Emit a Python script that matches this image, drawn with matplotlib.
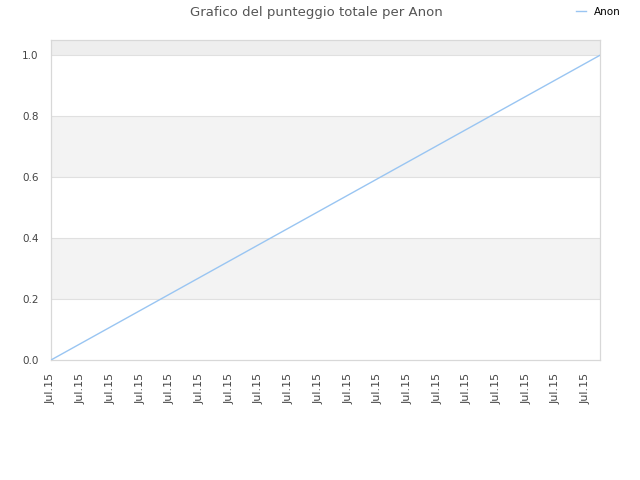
import matplotlib
matplotlib.use("Agg")
import matplotlib.pyplot as plt

# data
x_values = [0.0, 18.48]
y_values = [0.0, 1.0]
tick_positions = list(range(19))
tick_labels = ["Jul.15"] * 19
y_ticks = [0.0, 0.2, 0.4, 0.6, 0.8, 1.0]
series_name = "Anon"
title = "Grafico del punteggio totale per Anon"

fig = plt.figure(figsize=(6.4, 4.8), dpi=100)
ax = fig.add_axes([51/640, 120/480, 549/640, 320/480])

# bands
ax.axhspan(0.2, 0.4, color="#f3f3f3", zorder=0, lw=0)
ax.axhspan(0.6, 0.8, color="#f3f3f3", zorder=0, lw=0)
ax.axhspan(1.0, 1.05, color="#eeeeee", zorder=0, lw=0)
for yv in y_ticks[1:]:
    ax.axhline(yv, color="#e0e0e0", lw=0.8, zorder=1)

ax.plot(x_values, y_values, color="#99c5f2", lw=1.0, zorder=3, label=series_name)

ax.set_xlim(0, 18.48)
ax.set_ylim(0, 1.05)
ax.set_xticks(tick_positions)
ax.set_xticklabels(tick_labels, rotation=90, fontsize=8, color="#444444")
ax.set_yticks(y_ticks)
ax.set_yticklabels([f"{v:.1f}" for v in y_ticks], fontsize=7.5, color="#444444")
ax.tick_params(axis="x", length=0, pad=9)
ax.tick_params(axis="y", length=0, pad=9)
for s in ax.spines.values():
    s.set_color("#d8d8d8")
    s.set_linewidth(0.9)

fig.text(0.495, 0.988, title, ha="center", va="top", fontsize=9.5, color="#555555")
leg = fig.legend(loc="upper right", bbox_to_anchor=(0.985, 1.005), frameon=False,
                 fontsize=7.5, handlelength=1.0, handletextpad=0.8)

fig.savefig("out.png", dpi=100)
